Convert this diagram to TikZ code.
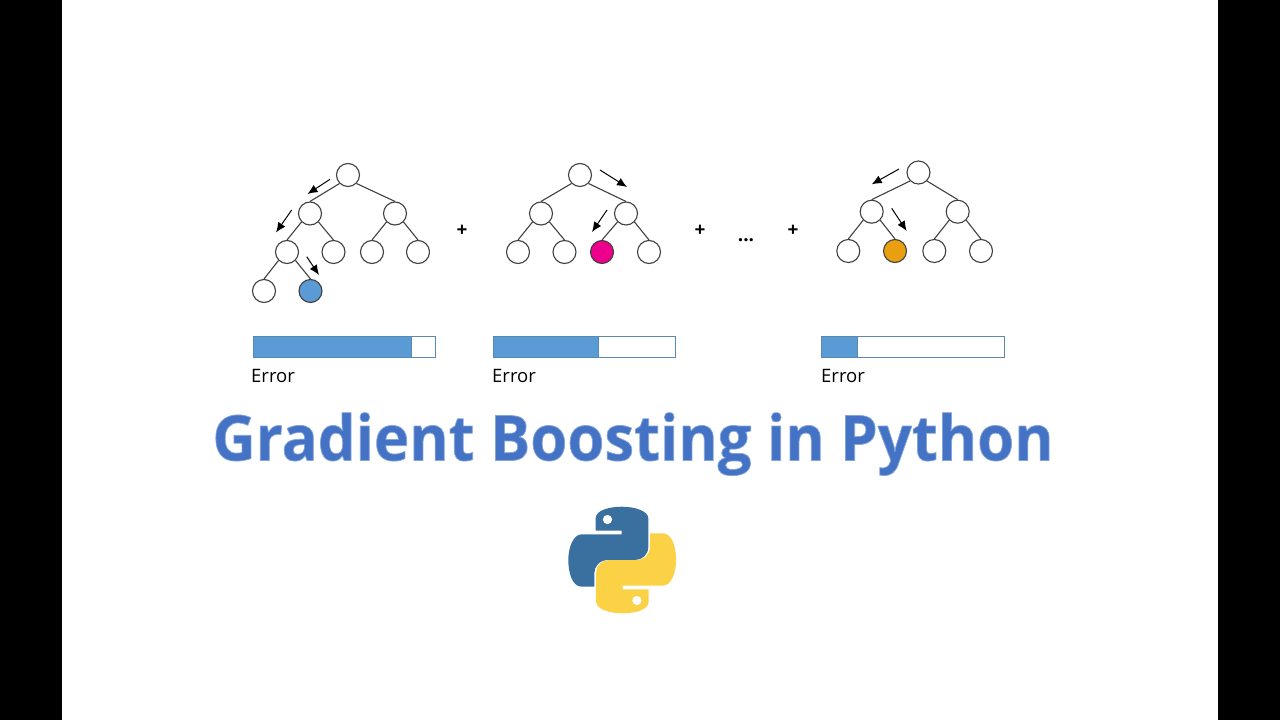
\documentclass[tikz,border=0pt]{standalone}
\usepackage{fontspec}
\setmainfont{Open Sans}
\newfontfamily\titlefont[BoldFeatures={FakeStretch=0.95,FakeBold=1.2}]{Open Sans}
\usetikzlibrary{arrows.meta}
\definecolor{barblue}{HTML}{5B9BD5}
\definecolor{barline}{HTML}{5A88AE}
\definecolor{leafblue}{HTML}{5B9BD5}
\definecolor{leafpink}{HTML}{EC008C}
\definecolor{leaforange}{HTML}{E8A010}
\definecolor{pyblue}{HTML}{3A70A0}
\definecolor{pyyellow}{HTML}{FBD145}
\newcommand\titlecolours{\special{pdf:bcolor [0.267 0.447 0.769] [0.52 0.65 0.86]}}
\tikzset{
	treenode/.style={circle,draw=black!75,line width=1.1pt,fill=white,minimum size=23pt,inner sep=0pt},
	treeedge/.style={draw=black!75,line width=1.1pt},
	walkarrow/.style={-{Latex[length=10pt,width=8.5pt]},black,line width=1pt},
	errorbar/.style={rectangle,draw=barline,line width=1pt,fill=white,minimum height=21pt,inner sep=0pt,anchor=west},
	errorfill/.style={rectangle,draw=barline,line width=0.8pt,fill=barblue,minimum height=21pt,inner sep=0pt,anchor=west},
	errorlabel/.style={anchor=base west,inner sep=0pt,font=\fontsize{18.5}{19}\selectfont},
	plus/.style={inner sep=0pt,font=\fontsize{19}{19}\selectfont\bfseries},
	titletext/.style={inner sep=0pt,anchor=base,font=\fontsize{63}{63}\titlefont\bfseries}
}
\begin{document}
\begin{tikzpicture}[x=1pt,y=-1pt]
	\useasboundingbox (0,0) rectangle (1280,720);
	\fill[black] (0,0) rectangle (62,720);
	\fill[black] (1218,0) rectangle (1280,720);

	% first tree
	\node[treenode] (A) at (348,175) {};
	\node[treenode] (AL) at (310,213.5) {};
	\node[treenode] (AR) at (395,213.5) {};
	\node[treenode] (ALL) at (287,252) {};
	\node[treenode] (ALR) at (333.5,252) {};
	\node[treenode] (ARL) at (372,252) {};
	\node[treenode] (ARR) at (418,252) {};
	\node[treenode] (ALLL) at (264,291) {};
	\node[treenode,fill=leafblue] (ALLR) at (310.5,291) {};
	\foreach \from/\side/\to in {A/south west/AL,A/south east/AR,AL/south west/ALL,AL/south east/ALR,AR/south west/ARL,AR/south east/ARR,ALL/south west/ALLL,ALL/south east/ALLR}
		\draw[treeedge] (\from.\side) -- (\to.north);
	\coordinate (a1s) at (330,179.3);
	\coordinate (a1e) at (307.5,194);
	\coordinate (a2s) at (291.7,210);
	\coordinate (a2e) at (276,232.5);
	\coordinate (a3s) at (306.7,256.7);
	\coordinate (a3e) at (319,275);
	\draw[walkarrow] (a1s) -- (a1e);
	\draw[walkarrow] (a2s) -- (a2e);
	\draw[walkarrow] (a3s) -- (a3e);

	% second tree
	\node[treenode] (B) at (580,175) {};
	\node[treenode] (BL) at (541,213.5) {};
	\node[treenode] (BR) at (626,213.5) {};
	\node[treenode] (BLL) at (518,252) {};
	\node[treenode] (BLR) at (564.5,252) {};
	\node[treenode,fill=leafpink] (BRL) at (602,252) {};
	\node[treenode] (BRR) at (649,252) {};
	\foreach \from/\side/\to in {B/south west/BL,B/south east/BR,BL/south west/BLL,BL/south east/BLR,BR/south west/BRL,BR/south east/BRR}
		\draw[treeedge] (\from.\side) -- (\to.north);
	\coordinate (b1s) at (600,170);
	\coordinate (b1e) at (627,187);
	\coordinate (b2s) at (607,210);
	\coordinate (b2e) at (592,232);
	\draw[walkarrow] (b1s) -- (b1e);
	\draw[walkarrow] (b2s) -- (b2e);

	% last tree
	\node[treenode] (C) at (918.5,172.5) {};
	\node[treenode] (CL) at (871.7,211.7) {};
	\node[treenode] (CR) at (957.7,211.7) {};
	\node[treenode] (CLL) at (848.3,251) {};
	\node[treenode,fill=leaforange] (CLR) at (895,251) {};
	\node[treenode] (CRL) at (934.3,251) {};
	\node[treenode] (CRR) at (981,251) {};
	\foreach \from/\side/\to in {C/south west/CL,C/south east/CR,CL/south west/CLL,CL/south east/CLR,CR/south west/CRL,CR/south east/CRR}
		\draw[treeedge] (\from.\side) -- (\to.north);
	\coordinate (c1s) at (899,169);
	\coordinate (c1e) at (871.7,184.3);
	\coordinate (c2s) at (891.7,208.3);
	\coordinate (c2e) at (906.7,231);
	\draw[walkarrow] (c1s) -- (c1e);
	\draw[walkarrow] (c2s) -- (c2e);

	\node[plus] (plusA) at (462,230.5) {+};
	\node[plus] (plusB) at (700,230.5) {+};
	\node[plus] (dots) at (746,240) {...};
	\node[plus] (plusC) at (793,230.5) {+};

	% error bars
	\node[errorbar,minimum width=182.5pt] (barA) at (252.5,346.5) {};
	\node[errorfill,minimum width=158pt] (fillA) at (252.5,346.5) {};
	\node[errorbar,minimum width=182.5pt] (barB) at (492.5,346.5) {};
	\node[errorfill,minimum width=105pt] (fillB) at (492.5,346.5) {};
	\node[errorbar,minimum width=183.5pt] (barC) at (820.5,346.5) {};
	\node[errorfill,minimum width=36pt] (fillC) at (820.5,346.5) {};
	\node[errorlabel] (errA) at (251,382) {Error};
	\node[errorlabel] (errB) at (492,382) {Error};
	\node[errorlabel] (errC) at (821,382) {Error};

	% title
	\node[titletext] (title) at (633,460.5) {\titlecolours Gradient Boosting in Python\special{pdf:ecolor}};

	% python logo
	\def\snake{(595.7,518.3) .. controls (595.7,510) and (610,506.7) .. (621.7,506.7)
		.. controls (635,506.7) and (648.3,511) .. (648.3,518.3)
		-- (648.3,546.7) .. controls (648.3,555) and (642,560) .. (635,560)
		-- (608.3,560) .. controls (600,560) and (594.3,566) .. (594.3,573)
		-- (594.3,586.7) -- (581.7,586.7)
		.. controls (572,586.7) and (568.3,572) .. (568.3,560)
		.. controls (568.3,548) and (573,534.3) .. (581.7,534.3)
		-- (621.7,534.3) -- (621.7,530.7) -- (595.7,530.7) -- cycle}
	\fill[pyblue] \snake;
	\fill[white] (607.5,519.5) circle (4.6pt);
	\begin{scope}[rotate around={180:(622.2,560)}]
		\fill[pyyellow] \snake;
		\fill[white] (607.5,519.5) circle (4.6pt);
	\end{scope}
\end{tikzpicture}
\end{document}
